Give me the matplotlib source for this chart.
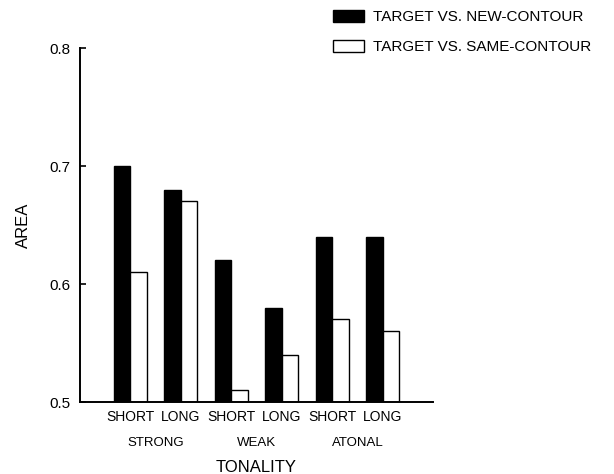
import matplotlib.pyplot as plt
import numpy as np
from matplotlib.patches import Patch
from matplotlib.transforms import blended_transform_factory

plt.rcParams["font.family"] = ["Liberation Sans", "DejaVu Sans"]

groups = ["STRONG", "WEAK", "ATONAL"]
lengths = ["SHORT", "LONG", "SHORT", "LONG", "SHORT", "LONG"]
new_contour = [0.70, 0.68, 0.62, 0.58, 0.64, 0.64]
same_contour = [0.61, 0.67, 0.51, 0.54, 0.57, 0.56]
series_labels = ["TARGET VS. NEW-CONTOUR", "TARGET VS. SAME-CONTOUR"]

x = np.arange(len(lengths))
width = 0.33

fig = plt.figure(figsize=(6.14, 4.74), dpi=100)
ax = fig.add_axes([80 / 614, 1 - 402 / 474, 353 / 614, 354 / 474])

ax.bar(x - width / 2, np.array(new_contour) - 0.5, width, bottom=0.5,
       color="black", edgecolor="black", linewidth=1)
ax.bar(x + width / 2, np.array(same_contour) - 0.5, width, bottom=0.5,
       color="white", edgecolor="black", linewidth=1)

ax.set_xlim(-1, 6)
ax.set_ylim(0.5, 0.8)
ax.set_yticks([0.5, 0.6, 0.7, 0.8])
ax.set_yticklabels(["0.5", "0.6", "0.7", "0.8"], fontsize=11)
ax.set_xticks(x)
ax.set_xticklabels(lengths, fontsize=10)
ax.tick_params(axis="y", direction="in", length=4, width=1.2, pad=7)
ax.tick_params(axis="x", length=0, pad=6)

for s in ["top", "right"]:
    ax.spines[s].set_visible(False)
ax.spines["left"].set_linewidth(1.4)
ax.spines["bottom"].set_linewidth(1.4)

trans = blended_transform_factory(ax.transData, ax.transAxes)
for i, g in enumerate(groups):
    ax.text(2 * i + 0.5, -0.115, g, transform=trans, ha="center", va="center",
            fontsize=9.5)

ax.set_xlabel("TONALITY", fontsize=12, labelpad=26)
ax.set_ylabel("AREA", fontsize=12, labelpad=13)

handles = [Patch(facecolor="black", edgecolor="black"),
           Patch(facecolor="white", edgecolor="black")]
fig.legend(handles, series_labels, loc="upper left",
           bbox_to_anchor=(333 / 614, 1 - 10 / 474), frameon=False,
           fontsize=11, handlelength=2.0, handleheight=0.85,
           handletextpad=0.6, labelspacing=1.0, borderpad=0, borderaxespad=0)

fig.savefig("out.png", dpi=100)
